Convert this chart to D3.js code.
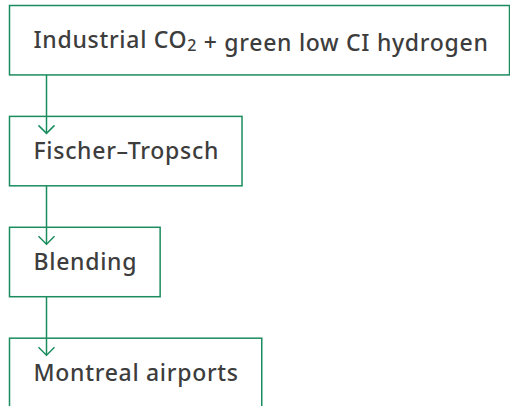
<!DOCTYPE html>
<html lang="en">
<head>
    <meta charset="UTF-8">
    <script src="https://d3js.org/d3.v7.min.js"></script>
    <title>Process flow</title>
    <style>
        body { margin: 0; background: #fff; }
    </style>
</head>
<body>
    <svg id="chart" width="510" height="406"></svg>
    <script>
        // steps of the process, top to bottom ("₂" is drawn as a subscript)
        const steps = [
            "Industrial CO₂ + green low CI hydrogen",
            "Fischer–Tropsch",
            "Blending",
            "Montreal airports"
        ];

        const svg = d3.select("#chart");
        const green = "#1b8c5e";
        const boxLeft = 9.5;
        const padLeft = 24;
        const padRight = 23;
        const arrowX = 46.5;

        const y = d3.scaleBand()
            .domain(steps)
            .range([5.5, 407.6])
            .paddingInner(0.374)
            .paddingOuter(0);

        const gBox = svg.append("g");
        const node = gBox.selectAll("g.step")
            .data(steps)
            .enter().append("g")
            .attr("class", "step")
            .attr("transform", d => "translate(" + boxLeft + "," + y(d) + ")");

        const rect = node.append("rect")
            .attr("height", y.bandwidth())
            .attr("fill", "none")
            .attr("stroke", green)
            .attr("stroke-width", 1.5);

        const label = node.append("text")
            .attr("x", padLeft)
            .attr("y", y.bandwidth() / 2 + 8)
            .attr("font-family", "'Noto Sans', sans-serif")
            .attr("font-weight", 500)
            .attr("font-size", 23)
            .attr("letter-spacing", 0.7)
            .attr("fill", "#3d3d3d");

        label.each(function(d) {
            const t = d3.select(this);
            d.split(/(₂)/).forEach(part => {
                if (part === "₂") {
                    t.append("tspan").attr("font-size", 16).attr("dy", 3).text("2");
                    t.append("tspan").attr("dy", -3).text("");
                } else if (part) {
                    t.append("tspan").text(part);
                }
            });
        });

        // box width follows the label
        rect.attr("width", function(d, i) {
            const w = label.nodes()[i].getComputedTextLength();
            return Math.min(w + padLeft + padRight, 510 - boxLeft - 0.5);
        });

        // connectors with open chevron heads inside the next box
        const links = d3.pairs(steps);
        const gLink = svg.append("g")
            .attr("fill", "none")
            .attr("stroke", green)
            .attr("stroke-width", 1.5);

        gLink.selectAll("line")
            .data(links)
            .enter().append("line")
            .attr("x1", arrowX)
            .attr("x2", arrowX)
            .attr("y1", d => y(d[0]) + y.bandwidth())
            .attr("y2", d => y(d[1]) + 17);

        gLink.selectAll("polyline")
            .data(links)
            .enter().append("polyline")
            .attr("points", d => {
                const tip = y(d[1]) + 17;
                return [[arrowX - 8, tip - 8], [arrowX, tip], [arrowX + 8, tip - 8]].join(" ");
            });
    </script>
</body>
</html>
